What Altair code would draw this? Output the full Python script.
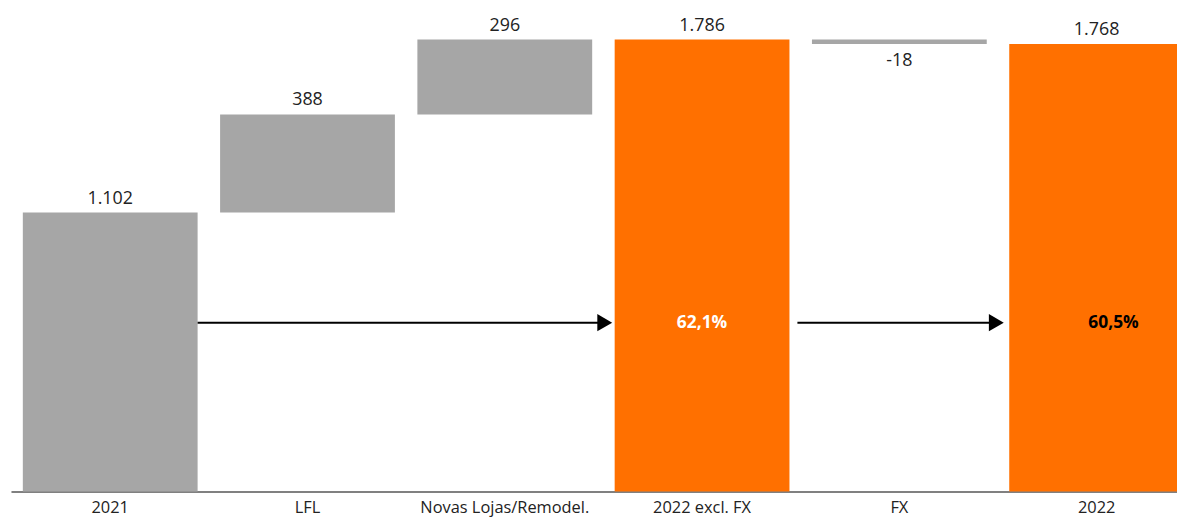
import altair as alt
import pandas as pd

categories = ["2021", "LFL", "Novas Lojas/Remodel.", "2022 excl. FX", "FX", "2022"]
starts = [0, 1102, 1490, 0, 1786, 0]
ends = [1102, 1490, 1786, 1786, 1768, 1768]
labels = ["1.102", "388", "296", "1.786", "-18", "1.768"]
kinds = ["delta", "delta", "delta", "total", "delta", "total"]
label_side = ["above", "above", "above", "above", "below", "above"]
pct_cats = ["2022 excl. FX", "2022"]
pct_labels = ["62,1%", "60,5%"]
pct_colors = ["white", "black"]
arrow_from = ["2021", "2022 excl. FX"]
arrow_to = ["2022 excl. FX", "2022"]
arrow_level = [667, 667]

df = pd.DataFrame({
    "cat": categories, "start": starts, "end": ends, "label": labels,
    "kind": kinds, "side": label_side,
})
df["top"] = df[["start", "end"]].max(axis=1)
df["bottom"] = df[["start", "end"]].min(axis=1)

pct_df = pd.DataFrame({"cat": pct_cats, "label": pct_labels, "col": pct_colors, "lvl": arrow_level})
arr_df = pd.DataFrame({"a": arrow_from, "b": arrow_to, "lvl": arrow_level})

FONT = "Open Sans"
xscale = alt.Scale(domain=categories, range=[1, 1194], paddingInner=0.114, paddingOuter=0.06)
yscale = alt.Scale(domain=[0, 1786], nice=False, zero=True)

xenc = alt.X("cat:N", scale=xscale, sort=categories,
             axis=alt.Axis(title=None, labelAngle=0, ticks=False, domainColor="#808080",
                           domainWidth=2, labelFontSize=16.5, labelColor="#222222",
                           labelFont=FONT, labelBaseline="alphabetic", labelPadding=21,
                           grid=False))

base = alt.Chart(df)
bars = base.mark_bar().encode(
    x=xenc,
    y=alt.Y("start:Q", scale=yscale, axis=None),
    y2="end:Q",
    color=alt.Color("kind:N", scale=alt.Scale(domain=["delta", "total"], range=["#A6A6A6", "#FF7000"]), legend=None),
)

xc = alt.X("cat:N", scale=xscale, sort=categories)
above = base.transform_filter(alt.datum.side == "above").mark_text(
    baseline="alphabetic", dy=-9, fontSize=18, font=FONT, color="#222222"
).encode(x=xc, y=alt.Y("top:Q", scale=yscale), text="label:N")

below = base.transform_filter(alt.datum.side == "below").mark_text(
    baseline="alphabetic", dy=22, fontSize=18, font=FONT, color="#222222"
).encode(x=xc, y=alt.Y("bottom:Q", scale=yscale), text="label:N")

arr = alt.Chart(arr_df)
line1 = arr.transform_filter(alt.datum.a == "2021").mark_rule(
    color="black", strokeWidth=2, x2Offset=-6).encode(
    x=alt.X("a:N", scale=xscale, bandPosition=1),
    x2=alt.X2("b:N", bandPosition=0),
    y=alt.Y("lvl:Q", scale=yscale),
)
line2 = arr.transform_filter(alt.datum.a == "2022 excl. FX").mark_rule(
    color="black", strokeWidth=2, xOffset=8, x2Offset=-10).encode(
    x=alt.X("a:N", scale=xscale, bandPosition=1),
    x2=alt.X2("b:N", bandPosition=0),
    y=alt.Y("lvl:Q", scale=yscale),
)
head1 = arr.transform_filter(alt.datum.a == "2021").mark_point(
    shape="triangle-right", filled=True, color="black", size=300, opacity=1, xOffset=-10).encode(
    x=alt.X("b:N", scale=xscale, bandPosition=0),
    y=alt.Y("lvl:Q", scale=yscale),
)
head2 = arr.transform_filter(alt.datum.a == "2022 excl. FX").mark_point(
    shape="triangle-right", filled=True, color="black", size=300, opacity=1, xOffset=-13).encode(
    x=alt.X("b:N", scale=xscale, bandPosition=0),
    y=alt.Y("lvl:Q", scale=yscale),
)

pct = alt.Chart(pct_df)
pct1 = pct.transform_filter(alt.datum.cat == "2022 excl. FX").mark_text(
    fontSize=17.5, fontWeight="bold", font=FONT, baseline="alphabetic", dy=5).encode(
    x=xc, y=alt.Y("lvl:Q", scale=yscale), text="label:N", color=alt.Color("col:N", scale=None))
pct2 = pct.transform_filter(alt.datum.cat == "2022").mark_text(
    fontSize=17.5, fontWeight="bold", font=FONT, baseline="alphabetic", dy=5, dx=17).encode(
    x=xc, y=alt.Y("lvl:Q", scale=yscale), text="label:N", color=alt.Color("col:N", scale=None))

chart = alt.layer(bars, above, below, line1, line2, head1, head2, pct1, pct2).properties(
    width=1175, height=455,
    autosize=alt.AutoSizeParams(type="none"),
    padding={"left": 2, "top": 30, "right": 0, "bottom": 28},
).configure_view(stroke=None)

chart.save("out.html", embed_options={"renderer": "svg", "actions": False})
